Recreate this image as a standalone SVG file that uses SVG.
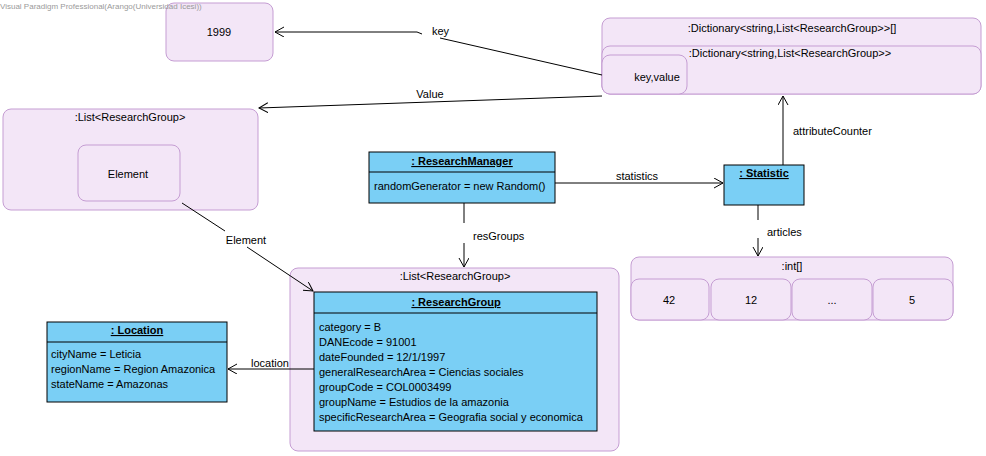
<svg xmlns="http://www.w3.org/2000/svg" width="986" height="456" viewBox="0 0 986 456">
<defs>
<marker id="arr" markerUnits="userSpaceOnUse" markerWidth="12" markerHeight="12" refX="9" refY="5" orient="auto">
<path d="M0,0 L9,5 L0,10" fill="none" stroke="#000" stroke-width="1"/>
</marker>
<style>
text{font-family:"Liberation Sans",Arial,sans-serif;font-size:11px;fill:#000}
.wm{font-size:8px;fill:#9a9a9a}
.c{text-anchor:middle}
.b{font-weight:bold;text-decoration:underline}
.pk{fill:#f3e6f7;stroke:#c59dd3;stroke-width:1}
.bl{fill:#7acff5;stroke:#000;stroke-width:1}
.ln{fill:none;stroke:#000;stroke-width:1}
</style>
</defs>
<rect width="986" height="456" fill="#fff"/>

<g id="n1999">
<rect class="pk" x="166" y="3" width="107" height="58" rx="8"/>
<text class="c" x="219" y="36">1999</text>
</g>

<g id="dictArray">
<rect class="pk" x="602" y="18" width="379" height="76" rx="8"/>
<text class="c" x="792" y="32">:Dictionary&lt;string,List&lt;ResearchGroup&gt;&gt;[]</text>
</g>
<g id="dict">
<rect class="pk" x="602" y="46" width="379" height="48" rx="8"/>
<text class="c" x="790" y="57">:Dictionary&lt;string,List&lt;ResearchGroup&gt;&gt;</text>
</g>
<g id="keyvalue">
<rect class="pk" x="602" y="55" width="85" height="39" rx="8"/>
<text class="c" x="657" y="81">key,value</text>
</g>

<g id="listTop">
<rect class="pk" x="3" y="109" width="255" height="101" rx="8"/>
<text class="c" x="130" y="121">:List&lt;ResearchGroup&gt;</text>
</g>
<g id="element">
<rect class="pk" x="78" y="145" width="102" height="56" rx="8"/>
<text class="c" x="128" y="178">Element</text>
</g>

<g id="researchManager">
<rect class="bl" x="369" y="152" width="186" height="51"/>
<line class="ln" x1="369" y1="172" x2="555" y2="172"/>
<text class="c b" x="462" y="165">: ResearchManager</text>
<text x="374" y="190">randomGenerator = new Random()</text>
</g>

<g id="statistic">
<rect class="bl" x="724" y="165" width="80" height="40"/>
<text class="c b" x="764" y="177">: Statistic</text>
</g>

<g id="intArray">
<rect class="pk" x="631" y="257" width="322" height="63" rx="8"/>
<text class="c" x="792" y="270">:int[]</text>
</g>
<g id="cell0"><rect class="pk" x="631" y="279" width="78" height="41" rx="8"/><text class="c" x="669" y="304">42</text></g>
<g id="cell1"><rect class="pk" x="711" y="279" width="80" height="41" rx="8"/><text class="c" x="751" y="304">12</text></g>
<g id="cell2"><rect class="pk" x="792" y="279" width="80" height="41" rx="8"/><text class="c" x="832" y="304">...</text></g>
<g id="cell3"><rect class="pk" x="873" y="279" width="80" height="41" rx="8"/><text class="c" x="912" y="304">5</text></g>

<g id="listBottom">
<rect class="pk" x="290" y="268" width="329" height="183" rx="8"/>
<text class="c" x="455" y="280">:List&lt;ResearchGroup&gt;</text>
</g>

<g id="researchGroup">
<rect class="bl" x="314" y="292" width="283" height="139"/>
<line class="ln" x1="314" y1="313" x2="597" y2="313"/>
<text class="c b" x="456" y="306">: ResearchGroup</text>
<text x="319" y="331">category = B</text>
<text x="319" y="346">DANEcode = 91001</text>
<text x="319" y="361">dateFounded = 12/1/1997</text>
<text x="319" y="376">generalResearchArea = Ciencias sociales</text>
<text x="319" y="391">groupCode = COL0003499</text>
<text x="319" y="406">groupName = Estudios de la amazonia</text>
<text x="319" y="421">specificResearchArea = Geografia social y economica</text>
</g>

<g id="location">
<rect class="bl" x="47" y="322" width="180" height="80"/>
<line class="ln" x1="47" y1="342" x2="227" y2="342"/>
<text class="c b" x="137" y="334">: Location</text>
<text x="51" y="358">cityName = Leticia</text>
<text x="51" y="373">regionName = Region Amazonica</text>
<text x="51" y="388">stateName = Amazonas</text>
</g>

<g id="connectors">
<path class="ln" d="M602,75 L440,38"/>
<path class="ln" d="M422,34 L417,32 L275,32" marker-end="url(#arr)"/>
<text x="432" y="35">key</text>

<path class="ln" d="M602,96 L259,108" marker-end="url(#arr)"/>
<text class="c" x="430" y="98">Value</text>

<path class="ln" d="M783,165 L783,96" marker-end="url(#arr)"/>
<text x="793" y="135">attributeCounter</text>

<path class="ln" d="M555,183 L723,183" marker-end="url(#arr)"/>
<text class="c" x="637" y="180">statistics</text>

<path class="ln" d="M464,203 L464,223"/>
<path class="ln" d="M464,243 L464,267" marker-end="url(#arr)"/>
<text x="473" y="240">resGroups</text>

<path class="ln" d="M758,205 L758,220"/>
<path class="ln" d="M758,238 L758,256" marker-end="url(#arr)"/>
<text x="767" y="236">articles</text>

<path class="ln" d="M182,203 L225,231"/>
<path class="ln" d="M247,247 L313,291" marker-end="url(#arr)"/>
<text class="c" x="246" y="244">Element</text>

<path class="ln" d="M314,369 L228,369" marker-end="url(#arr)"/>
<text x="251" y="367">location</text>
</g>

<text class="wm" x="0" y="9">Visual Paradigm Professional(Arango(Universidad Icesi))</text>
</svg>
